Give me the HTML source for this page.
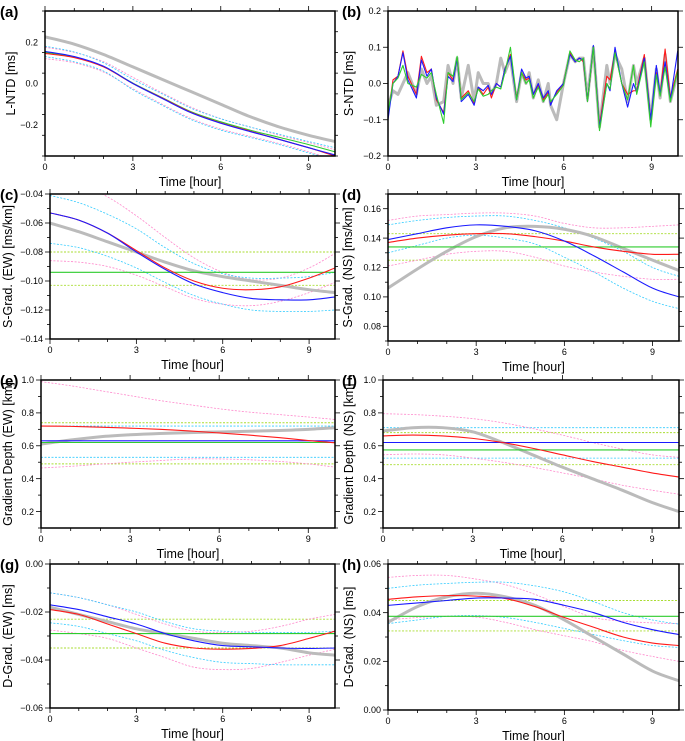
<!DOCTYPE html>
<html><head><meta charset="utf-8"><style>
body{margin:0;background:#fff}
svg{display:block;font-family:"Liberation Sans",sans-serif}
</style></head><body>
<svg id="fig" width="685" height="741" viewBox="0 0 685 741"></svg>
<script>
const T=[0,1,2,3,4,5,6,7,8,9,9.9];
// (a)
const aGray=[0.225,0.19,0.14,0.08,0.02,-0.04,-0.1,-0.16,-0.21,-0.25,-0.28];
const aRed=[0.145,0.125,0.08,0.0,-0.07,-0.14,-0.19,-0.23,-0.27,-0.31,-0.35];
const aBlue=[0.155,0.13,0.083,0.0,-0.072,-0.142,-0.192,-0.232,-0.27,-0.31,-0.345];
const aGreen=[0.15,0.128,0.082,0.002,-0.068,-0.137,-0.185,-0.225,-0.26,-0.295,-0.33];
const aPinkHi=[0.175,0.15,0.105,0.03,-0.045,-0.115,-0.17,-0.21,-0.25,-0.285,-0.32];
const aPinkLo=[0.12,0.1,0.055,-0.025,-0.1,-0.17,-0.22,-0.255,-0.29,-0.33,-0.37];
const aCyanHi=[0.18,0.152,0.1,0.02,-0.05,-0.12,-0.17,-0.21,-0.245,-0.28,-0.31];
const aCyanLo=[0.13,0.105,0.06,-0.03,-0.105,-0.175,-0.225,-0.26,-0.295,-0.335,-0.37];
// (b)
const bT=[0,0.17,0.34,0.51,0.68,0.97,1.14,1.33,1.48,1.65,1.9,2.05,2.22,2.36,2.5,2.74,2.94,3.08,3.25,3.42,3.53,3.7,3.85,3.99,4.18,4.39,4.56,4.71,4.82,4.96,5.13,5.3,5.47,5.55,5.76,5.99,6.21,6.39,6.53,6.67,6.81,7.01,7.22,7.47,7.58,7.75,7.98,8.18,8.38,8.49,8.75,8.97,9.16,9.29,9.46,9.64,9.89];
const bBlue=[-0.1,0,0.02,0.085,0.01,-0.04,0.065,0.02,0.04,-0.04,-0.085,0.02,0.005,0.07,-0.05,-0.03,-0.06,-0.01,-0.02,-0.005,-0.03,0,-0.01,0.04,0.075,-0.045,0.04,0.015,0.02,-0.03,0,-0.04,-0.02,-0.06,-0.02,0,0.08,0.06,0.07,0.065,-0.05,0.105,-0.12,0,-0.02,0.1,0,-0.065,0,-0.025,0.07,-0.1,0.05,-0.03,0.06,-0.045,0.09];
const bRed=[-0.09,0.01,0.02,0.09,0.02,-0.03,0.075,0.03,0.04,-0.045,-0.08,0.03,0.01,0.07,-0.04,-0.02,-0.055,-0.01,-0.03,-0.01,-0.04,0,-0.01,0.04,0.08,-0.04,0.03,0.01,0.015,-0.03,-0.005,-0.045,-0.025,-0.055,-0.025,0,0.085,0.06,0.07,0.06,-0.05,0.1,-0.115,0.02,0.01,0.09,0,-0.03,-0.02,-0.02,0.08,-0.1,0.03,-0.03,0.095,-0.04,0.04];
const bGreen=[-0.08,0,0.015,0.05,0.0,-0.01,0.025,0.015,0.03,-0.03,-0.11,0.03,0.02,0.075,-0.045,-0.025,-0.05,-0.015,-0.035,-0.03,-0.02,-0.01,-0.015,0.03,0.1,-0.045,0.03,0.0,0.01,-0.04,-0.01,-0.05,-0.03,-0.05,-0.03,-0.005,0.09,0.065,0.06,0.07,-0.05,0.1,-0.13,0.0,-0.015,0.085,0.0,-0.045,0.05,-0.03,0.06,-0.12,0.025,-0.035,0.045,-0.05,0.035];
const bGray=[-0.06,-0.02,-0.03,0.0,0.03,-0.03,0.04,0.0,0.02,-0.06,-0.05,0.05,0.0,0.07,-0.04,0.05,-0.05,0.03,0.0,0.0,-0.03,0.0,0.07,0.03,0.07,-0.05,0.03,0.0,0.03,-0.04,0.01,-0.05,0.0,-0.06,-0.1,0.0,0.08,0.06,0.07,0.07,-0.04,0.1,-0.12,0.05,0.0,0.08,0.04,-0.05,0.05,0.0,0.07,-0.1,0.04,-0.04,0.08,-0.05,0.03];
// (c)
const cGray=[-0.06,-0.066,-0.073,-0.08,-0.087,-0.093,-0.097,-0.1,-0.103,-0.106,-0.108];
const cRed=[-0.053,-0.058,-0.067,-0.079,-0.091,-0.1,-0.105,-0.106,-0.104,-0.098,-0.091];
const cBlue=[-0.053,-0.058,-0.067,-0.08,-0.092,-0.102,-0.108,-0.112,-0.113,-0.113,-0.111];
const cGreen=[-0.094,-0.094];
const cLime=[-0.080,-0.103];
const cPinkHi=[-0.025,-0.033,-0.042,-0.055,-0.07,-0.084,-0.094,-0.099,-0.098,-0.091,-0.081];
const cPinkLo=[-0.086,-0.087,-0.09,-0.096,-0.104,-0.112,-0.116,-0.117,-0.114,-0.108,-0.101];
const cCyanHi=[-0.041,-0.046,-0.054,-0.064,-0.077,-0.088,-0.095,-0.098,-0.098,-0.097,-0.094];
const cCyanLo=[-0.074,-0.077,-0.083,-0.091,-0.101,-0.11,-0.116,-0.12,-0.121,-0.121,-0.12];
// (d)
const dGray=[0.106,0.119,0.131,0.141,0.147,0.148,0.146,0.141,0.133,0.125,0.118];
const dRed=[0.137,0.14,0.142,0.143,0.143,0.141,0.138,0.134,0.131,0.129,0.129];
const dBlue=[0.139,0.143,0.147,0.149,0.148,0.145,0.138,0.128,0.117,0.106,0.1];
const dGreen=[0.134,0.134];
const dLime=[0.143,0.125];
const dPinkHi=[0.152,0.155,0.156,0.157,0.157,0.155,0.15,0.147,0.147,0.148,0.149];
const dPinkLo=[0.121,0.125,0.129,0.131,0.131,0.127,0.121,0.117,0.114,0.112,0.112];
const dCyanHi=[0.149,0.152,0.154,0.155,0.155,0.152,0.147,0.14,0.131,0.12,0.114];
const dCyanLo=[0.13,0.135,0.14,0.142,0.14,0.136,0.127,0.117,0.106,0.097,0.092];
// (e)
const eGray=[0.61,0.635,0.655,0.667,0.675,0.68,0.684,0.688,0.693,0.7,0.71];
const eRed=[0.72,0.718,0.713,0.707,0.7,0.69,0.678,0.665,0.65,0.632,0.618];
const eBlue=[0.63,0.63];
const eGreen=[0.62,0.62];
const eLime=[0.74,0.49];
const eCyan=[0.72,0.53];
const ePinkHi=[0.99,0.965,0.935,0.905,0.875,0.85,0.825,0.805,0.79,0.775,0.76];
const ePinkLo=[0.465,0.475,0.488,0.5,0.51,0.52,0.52,0.515,0.505,0.49,0.47];
// (f)
const fGray=[0.69,0.71,0.71,0.685,0.62,0.545,0.47,0.4,0.33,0.255,0.2];
const fRed=[0.66,0.665,0.66,0.645,0.62,0.585,0.545,0.505,0.47,0.435,0.41];
const fBlue=[0.62,0.62];
const fGreen=[0.575,0.575];
const fLime=[0.68,0.485];
const fCyan=[0.71,0.525];
const fPinkHi=[0.795,0.79,0.78,0.765,0.74,0.705,0.665,0.62,0.58,0.545,0.53];
const fPinkLo=[0.545,0.55,0.545,0.525,0.5,0.47,0.435,0.4,0.36,0.33,0.305];
// (g)
const gGray=[-0.018,-0.021,-0.024,-0.027,-0.029,-0.031,-0.033,-0.034,-0.035,-0.037,-0.038];
const gRed=[-0.019,-0.021,-0.025,-0.029,-0.033,-0.035,-0.0355,-0.0352,-0.034,-0.031,-0.028];
const gBlue=[-0.017,-0.019,-0.022,-0.025,-0.029,-0.032,-0.034,-0.0345,-0.035,-0.0352,-0.035];
const gGreen=[-0.029,-0.029];
const gLime=[-0.023,-0.035];
const gCyanHi=[-0.012,-0.014,-0.017,-0.02,-0.024,-0.027,-0.028,-0.0285,-0.0285,-0.0285,-0.028];
const gCyanLo=[-0.0245,-0.026,-0.029,-0.032,-0.036,-0.039,-0.041,-0.0415,-0.042,-0.042,-0.042];
const gPinkHi=[-0.012,-0.014,-0.017,-0.021,-0.025,-0.028,-0.0285,-0.028,-0.026,-0.023,-0.021];
const gPinkLo=[-0.0275,-0.029,-0.031,-0.035,-0.039,-0.043,-0.044,-0.0435,-0.041,-0.038,-0.0355];
// (h)
const hGray=[0.036,0.0425,0.0465,0.048,0.0465,0.043,0.037,0.03,0.023,0.016,0.012];
const hRed=[0.0455,0.0465,0.047,0.0468,0.0458,0.0425,0.038,0.034,0.03,0.0275,0.0265];
const hBlue=[0.043,0.044,0.045,0.046,0.046,0.0455,0.043,0.04,0.036,0.033,0.031];
const hGreen=[0.0385,0.0385];
const hLime=[0.045,0.0325];
const hPinkHi=[0.0545,0.0553,0.0553,0.0538,0.0515,0.0475,0.0425,0.038,0.0365,0.0358,0.0355];
const hPinkLo=[0.037,0.038,0.0385,0.0382,0.036,0.033,0.0305,0.028,0.0245,0.022,0.02];
const hCyanHi=[0.05,0.0513,0.052,0.0525,0.0525,0.051,0.0485,0.0445,0.04,0.037,0.0353];
const hCyanLo=[0.0355,0.037,0.0385,0.0388,0.038,0.036,0.0335,0.031,0.0285,0.0265,0.0257];

const NS='http://www.w3.org/2000/svg';
const svg=document.getElementById('fig');
function mk(tag,attrs,parent){const e=document.createElementNS(NS,tag);for(const k in attrs)e.setAttribute(k,attrs[k]);(parent||svg).appendChild(e);return e;}
const XMAX=9.9;
const S={gray:{stroke:'#bbbbbb',w:3,d:''},red:{stroke:'#ff1a1a',w:1.1,d:''},blue:{stroke:'#1a1aff',w:1.1,d:''},green:{stroke:'#2ecc2e',w:1.1,d:''},
pink:{stroke:'#ff88cc',w:0.8,d:'2,1.5'},cyan:{stroke:'#33ccff',w:0.8,d:'2,1.5'},lime:{stroke:'#aadd33',w:0.9,d:'2,1.5'}};
function fmt(v,dec){const s=Math.abs(v).toFixed(dec);return (v<-1e-9?'\u2212':'')+s;}

function panel(p){
  const g=mk('g',{});
  
  
  const sx=t=>p.x0+(t/XMAX)*(p.x1-p.x0);
  const sy=v=>p.y1-(v-p.ymin)/(p.ymax-p.ymin)*(p.y1-p.y0);
  const clip=mk('clipPath',{id:'clip'+p.id},g);
  mk('rect',{x:p.x0,y:p.y0,width:p.x1-p.x0,height:p.y1-p.y0},clip);
  const plot=mk('g',{'clip-path':'url(#clip'+p.id+')'},g);
  
  
  p.series.forEach(s=>{
    const st=S[s.style];
    let d;
    const ts=s.t|| (s.v.length===2?[0,XMAX]:T);
    const pts=ts.map((t,i)=>[sx(t),sy(s.v[i])]);
    if(s.linear||pts.length<3){d='M'+pts.map(q=>q[0].toFixed(2)+','+q[1].toFixed(2)).join('L');}
    else{d='M'+pts[0][0]+','+pts[0][1];
      for(let i=0;i<pts.length-1;i++){const p0=pts[Math.max(0,i-1)],p1=pts[i],p2=pts[i+1],p3=pts[Math.min(pts.length-1,i+2)];
        const c1=[p1[0]+(p2[0]-p0[0])/6,p1[1]+(p2[1]-p0[1])/6],c2=[p2[0]-(p3[0]-p1[0])/6,p2[1]-(p3[1]-p1[1])/6];
        d+='C'+c1[0].toFixed(2)+','+c1[1].toFixed(2)+' '+c2[0].toFixed(2)+','+c2[1].toFixed(2)+' '+p2[0].toFixed(2)+','+p2[1].toFixed(2);}}
    const el=mk('path',{d:d,fill:'none',stroke:st.stroke,'stroke-width':st.w,'stroke-dasharray':st.d,'stroke-linejoin':'round'},plot);
    
    
  });
  // frame
  const fr=mk('rect',{x:p.x0,y:p.y0,width:p.x1-p.x0,height:p.y1-p.y0,fill:'none',stroke:'#000','stroke-width':1.5},g);
  
  
  // x ticks
  for(let t=0;t<=9;t++){const x=sx(t),L=(t%3===0)?5:3;
    mk('line',{x1:x,x2:x,y1:p.y1,y2:p.y1+L,stroke:'#000','stroke-width':0.8},g);
    mk('line',{x1:x,x2:x,y1:p.y0,y2:p.y0-L,stroke:'#000','stroke-width':0.8},g);
    if(t%3===0){const tx=mk('text',{x:x,y:p.y1+14,'font-size':9,'text-anchor':'middle'},g);tx.textContent=t;
      
      }}
  // y ticks
  const n=Math.round((p.ymax-p.ymin)/p.minor);
  for(let i=0;i<=n;i++){const v=p.ymin+i*p.minor;const y=sy(v);
    const isMaj=p.labels.some(l=>Math.abs(l-v)<1e-9);const L=isMaj?5:3;
    mk('line',{x1:p.x0,x2:p.x0-L,y1:y,y2:y,stroke:'#000','stroke-width':0.8},g);
    mk('line',{x1:p.x1,x2:p.x1+L,y1:y,y2:y,stroke:'#000','stroke-width':0.8},g);}
  p.labels.forEach(v=>{const tx=mk('text',{x:p.x0-7,y:sy(v)+3.2,'font-size':9,'text-anchor':'end'},g);tx.textContent=fmt(v,p.dec);
    
    });
  const xt=mk('text',{x:(p.x0+p.x1)/2,y:p.y1+30,'font-size':12.5,'text-anchor':'middle'},g);xt.textContent='Time [hour]';
  
  
  const yc=(p.y0+p.y1)/2;
  const yt=mk('text',{x:p.ytx,y:yc,'font-size':12.5,'text-anchor':'middle',transform:'rotate(-90 '+p.ytx+' '+yc+')'},g);yt.textContent=p.ytitle;
  
  
  const pl=mk('text',{x:p.lx,y:p.y0+6,'font-size':15,'font-weight':'bold'},g);pl.textContent='('+p.id+')';
  
  
}
function std(pre,o){return o;}
panel({id:'a',x0:45,x1:335,y0:11,y1:156,ymin:-0.35,ymax:0.35,minor:0.1,labels:[-0.2,0,0.2],dec:1,ytitle:'L-NTD [ms]',ytx:15,lx:0,
series:[{name:'pink-upper',style:'pink',v:aPinkHi},{name:'pink-lower',style:'pink',v:aPinkLo},{name:'cyan-upper',style:'cyan',v:aCyanHi},{name:'cyan-lower',style:'cyan',v:aCyanLo},
{name:'gray-line',style:'gray',v:aGray},{name:'green-line',style:'green',v:aGreen},{name:'red-line',style:'red',v:aRed},{name:'blue-line',style:'blue',v:aBlue}]});
panel({id:'b',x0:388,x1:678,y0:11,y1:156,ymin:-0.2,ymax:0.2,minor:0.1,labels:[-0.2,-0.1,0,0.1,0.2],dec:1,ytitle:'S-NTD [ms]',ytx:353,lx:342,
series:[{name:'gray-line',style:'gray',v:bGray,t:bT,linear:true},{name:'red-line',style:'red',v:bRed,t:bT,linear:true},{name:'blue-line',style:'blue',v:bBlue,t:bT,linear:true},{name:'green-line',style:'green',v:bGreen,t:bT,linear:true}]});
panel({id:'c',x0:50,x1:335,y0:194,y1:339,ymin:-0.14,ymax:-0.04,minor:0.01,labels:[-0.14,-0.12,-0.1,-0.08,-0.06,-0.04],dec:2,ytitle:'S-Grad. (EW) [ms/km]',ytx:12,lx:0,
series:[{name:'lime-upper',style:'lime',v:cLime.slice(0,1).concat(cLime.slice(0,1))},{name:'lime-lower',style:'lime',v:cLime.slice(1).concat(cLime.slice(1))},
{name:'pink-upper',style:'pink',v:cPinkHi},{name:'pink-lower',style:'pink',v:cPinkLo},{name:'cyan-upper',style:'cyan',v:cCyanHi},{name:'cyan-lower',style:'cyan',v:cCyanLo},
{name:'gray-line',style:'gray',v:cGray},{name:'green-line',style:'green',v:cGreen},{name:'red-line',style:'red',v:cRed},{name:'blue-line',style:'blue',v:cBlue}]});
panel({id:'d',x0:388,x1:679,y0:194,y1:341,ymin:0.07,ymax:0.17,minor:0.01,labels:[0.08,0.1,0.12,0.14,0.16],dec:2,ytitle:'S-Grad. (NS) [ms/km]',ytx:352,lx:342,
series:[{name:'lime-upper',style:'lime',v:[dLime[0],dLime[0]]},{name:'lime-lower',style:'lime',v:[dLime[1],dLime[1]]},
{name:'pink-upper',style:'pink',v:dPinkHi},{name:'pink-lower',style:'pink',v:dPinkLo},{name:'cyan-upper',style:'cyan',v:dCyanHi},{name:'cyan-lower',style:'cyan',v:dCyanLo},
{name:'gray-line',style:'gray',v:dGray},{name:'green-line',style:'green',v:dGreen},{name:'red-line',style:'red',v:dRed},{name:'blue-line',style:'blue',v:dBlue}]});
panel({id:'e',x0:41,x1:335,y0:380,y1:528,ymin:0.1,ymax:1.0,minor:0.1,labels:[0.2,0.4,0.6,0.8,1.0],dec:1,ytitle:'Gradient Depth (EW) [km]',ytx:12,lx:0,
series:[{name:'lime-upper',style:'lime',v:[eLime[0],eLime[0]]},{name:'lime-lower',style:'lime',v:[eLime[1],eLime[1]]},
{name:'cyan-upper',style:'cyan',v:[eCyan[0],eCyan[0]]},{name:'cyan-lower',style:'cyan',v:[eCyan[1],eCyan[1]]},
{name:'pink-upper',style:'pink',v:ePinkHi},{name:'pink-lower',style:'pink',v:ePinkLo},
{name:'gray-line',style:'gray',v:eGray},{name:'green-line',style:'green',v:eGreen},{name:'blue-line',style:'blue',v:eBlue},{name:'red-line',style:'red',v:eRed}]});
panel({id:'f',x0:383,x1:679,y0:380,y1:528,ymin:0.1,ymax:1.0,minor:0.1,labels:[0.2,0.4,0.6,0.8,1.0],dec:1,ytitle:'Gradient Depth (NS) [km]',ytx:353,lx:342,
series:[{name:'lime-upper',style:'lime',v:[fLime[0],fLime[0]]},{name:'lime-lower',style:'lime',v:[fLime[1],fLime[1]]},
{name:'cyan-upper',style:'cyan',v:[fCyan[0],fCyan[0]]},{name:'cyan-lower',style:'cyan',v:[fCyan[1],fCyan[1]]},
{name:'pink-upper',style:'pink',v:fPinkHi},{name:'pink-lower',style:'pink',v:fPinkLo},
{name:'gray-line',style:'gray',v:fGray},{name:'green-line',style:'green',v:fGreen},{name:'blue-line',style:'blue',v:fBlue},{name:'red-line',style:'red',v:fRed}]});
panel({id:'g',x0:50,x1:335,y0:564,y1:708,ymin:-0.06,ymax:0,minor:0.01,labels:[-0.06,-0.04,-0.02,0],dec:2,ytitle:'D-Grad. (EW) [ms]',ytx:12,lx:0,
series:[{name:'lime-upper',style:'lime',v:[gLime[0],gLime[0]]},{name:'lime-lower',style:'lime',v:[gLime[1],gLime[1]]},
{name:'pink-upper',style:'pink',v:gPinkHi},{name:'pink-lower',style:'pink',v:gPinkLo},{name:'cyan-upper',style:'cyan',v:gCyanHi},{name:'cyan-lower',style:'cyan',v:gCyanLo},
{name:'gray-line',style:'gray',v:gGray},{name:'green-line',style:'green',v:gGreen},{name:'red-line',style:'red',v:gRed},{name:'blue-line',style:'blue',v:gBlue}]});
panel({id:'h',x0:388,x1:679,y0:564,y1:710,ymin:0,ymax:0.06,minor:0.01,labels:[0,0.02,0.04,0.06],dec:2,ytitle:'D-Grad. (NS) [ms]',ytx:353,lx:342,
series:[{name:'lime-upper',style:'lime',v:[hLime[0],hLime[0]]},{name:'lime-lower',style:'lime',v:[hLime[1],hLime[1]]},
{name:'pink-upper',style:'pink',v:hPinkHi},{name:'pink-lower',style:'pink',v:hPinkLo},{name:'cyan-upper',style:'cyan',v:hCyanHi},{name:'cyan-lower',style:'cyan',v:hCyanLo},
{name:'gray-line',style:'gray',v:hGray},{name:'green-line',style:'green',v:hGreen},{name:'red-line',style:'red',v:hRed},{name:'blue-line',style:'blue',v:hBlue}]});
</script>
</body></html>
